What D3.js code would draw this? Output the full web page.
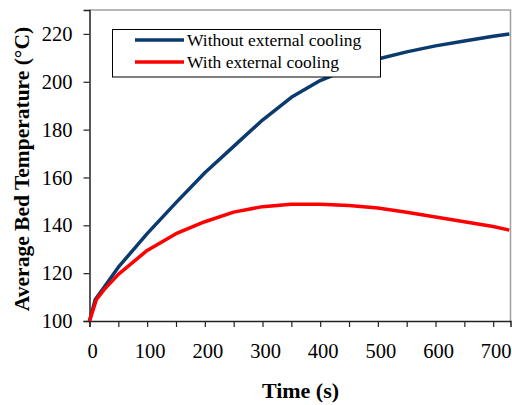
<!DOCTYPE html>
<html>
<head>
<meta charset="utf-8">
<script src="https://cdn.jsdelivr.net/npm/d3@7"></script>
<style>
  body { margin: 0; background: #fff; }
</style>
</head>
<body>
<svg id="chart" width="512" height="405"></svg>
<script>
const timeNoCool = [0, 10, 25, 50, 100, 150, 200, 250, 300, 350, 400, 450, 500, 550, 600, 650, 700, 728];
const tempNoCool = [100, 109, 114, 122.5, 136.5, 149.5, 162, 173, 184, 193.5, 200.5, 205.5, 209.5, 212.5, 215, 217, 219, 220];
const timeCool = [0, 12, 25, 50, 100, 150, 200, 250, 300, 350, 400, 450, 500, 550, 600, 650, 700, 728];
const tempCool = [100, 109, 113, 119.5, 129.5, 136.5, 141.5, 145.5, 147.8, 148.8, 148.8, 148.3, 147.2, 145.5, 143.5, 141.5, 139.5, 138];
const xTicks = [0, 100, 200, 300, 400, 500, 600, 700];
const xMinorTicks = [50, 150, 250, 350, 450, 550, 650];
const yTicks = [100, 120, 140, 160, 180, 200, 220];
const seriesNames = ["Without external cooling", "With external cooling"];
const seriesColors = ["#0b3a6f", "#ff0000"];

const serif = "Liberation Serif";
const plotLeft = 89.5, plotRight = 510.5, plotTop = 10, plotBottom = 321;

const svg = d3.select("#chart").attr("font-family", serif);

const x = d3.scaleLinear().domain([0, 730]).range([plotLeft, plotRight]);
const y = d3.scaleLinear().domain([100, 230]).range([plotBottom, plotTop]);

// gray frame on top and right
svg.append("path")
  .attr("d", `M${plotLeft},${plotTop}H${plotRight}V${plotBottom}`)
  .attr("fill", "none")
  .attr("stroke", "#a0a0a0")
  .attr("stroke-width", 1.5);

// x axis
const xAxis = svg.append("g")
  .attr("transform", `translate(0,${plotBottom})`)
  .call(d3.axisBottom(x).tickValues(xTicks.concat(xMinorTicks)).tickSize(6).tickFormat(""));
xAxis.select(".domain").attr("stroke", "#222").attr("stroke-width", 1.5);
xAxis.selectAll(".tick line").attr("stroke", "#222").attr("stroke-width", 1.2);

svg.append("g")
  .selectAll("text")
  .data(xTicks)
  .join("text")
  .attr("x", d => x(d) + 3)
  .attr("y", 358)
  .attr("text-anchor", "middle")
  .attr("font-family", serif)
  .attr("font-size", 20.5)
  .attr("fill", "#000")
  .text(d => d);

// y axis
const yAxis = svg.append("g")
  .attr("transform", `translate(${plotLeft},0)`)
  .call(d3.axisLeft(y).tickValues(yTicks).tickSize(6).tickPadding(11))
  .attr("font-family", serif)
  .attr("font-size", 20.5);
yAxis.select(".domain").attr("stroke", "#222").attr("stroke-width", 1.5);
yAxis.selectAll(".tick line").attr("stroke", "#222").attr("stroke-width", 1.2);
yAxis.selectAll(".tick text")
  .attr("font-family", serif)
  .attr("fill", "#000");

// axis titles
svg.append("text")
  .attr("x", 300.5)
  .attr("y", 398)
  .attr("text-anchor", "middle")
  .attr("font-family", serif)
  .attr("font-size", 22)
  .attr("font-weight", "bold")
  .text("Time (s)");

svg.append("text")
  .attr("transform", "translate(29,169) rotate(-90)")
  .attr("text-anchor", "middle")
  .attr("font-family", serif)
  .attr("font-size", 21.5)
  .attr("font-weight", "bold")
  .text("Average Bed Temperature (°C)");

// lines
const line = d3.line()
  .x(d => x(d[0]))
  .y(d => y(d[1]));

const series = [
  d3.zip(timeNoCool, tempNoCool),
  d3.zip(timeCool, tempCool)
];

svg.append("g")
  .selectAll("path")
  .data(series)
  .join("path")
  .attr("d", line)
  .attr("fill", "none")
  .attr("stroke", (d, i) => seriesColors[i])
  .attr("stroke-width", 3.5)
  .attr("stroke-linejoin", "round");

// legend
const legend = svg.append("g");
legend.append("rect")
  .attr("x", 112.5)
  .attr("y", 29.5)
  .attr("width", 268)
  .attr("height", 47.5)
  .attr("fill", "#fff")
  .attr("stroke", "#000")
  .attr("stroke-width", 1);

const items = legend.selectAll("g.item")
  .data(seriesNames)
  .join("g")
  .attr("class", "item")
  .attr("transform", (d, i) => `translate(0,${40 + i * 22})`);

items.append("line")
  .attr("x1", 135)
  .attr("x2", 184)
  .attr("stroke", (d, i) => seriesColors[i])
  .attr("stroke-width", 3.5);

items.append("text")
  .attr("x", 187)
  .attr("y", 6)
  .attr("font-family", serif)
  .attr("font-size", 17.5)
  .attr("fill", "#000")
  .text(d => d);
</script>
</body>
</html>
